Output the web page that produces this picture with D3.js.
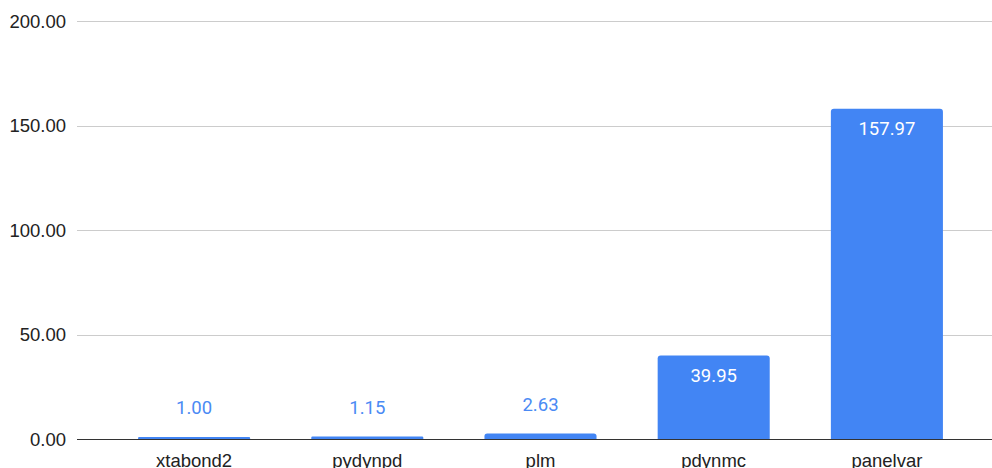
<!DOCTYPE html>
<html>
<head>
<meta charset="utf-8">
<script src="https://cdn.jsdelivr.net/npm/d3@7"></script>
<style>
  body { margin: 0; background: #fff; }
  svg { display: block; }
</style>
</head>
<body>
<script>
var width = 992;
var height = 468;

var categories = ["xtabond2", "pydynpd", "plm", "pdynmc", "panelvar"];
var values = [1.00, 1.15, 2.63, 39.95, 157.97];
var yTicks = [0, 50, 100, 150, 200];

var svg = d3.select("body").append("svg")
  .attr("width", width)
  .attr("height", height);

var x = d3.scaleBand()
  .domain(categories)
  .range([107.5, 973.5])
  .paddingInner(0.353)
  .paddingOuter(0.1765);

var y = d3.scaleLinear()
  .domain([0, 200])
  .range([439, 21]);

// gridlines
svg.append("g")
  .selectAll("line")
  .data(yTicks.filter(function(d) { return d > 0; }))
  .enter().append("line")
    .attr("x1", 77)
    .attr("x2", width)
    .attr("y1", function(d) { return Math.round(y(d)) + 0.5; })
    .attr("y2", function(d) { return Math.round(y(d)) + 0.5; })
    .attr("stroke", "#cccccc")
    .attr("stroke-width", 1);

// y labels
svg.append("g")
  .selectAll("text")
  .data(yTicks)
  .enter().append("text")
    .attr("x", 66)
    .attr("y", function(d) { return y(d) + 6.5; })
    .attr("text-anchor", "end")
    .attr("font-family", "Liberation Sans, Arial, sans-serif")
    .attr("font-size", 18.5)
    .attr("fill", "#222")
    .text(function(d) { return d3.format(".2f")(d); });

// bars
function barPath(d, i) {
  var x0 = x(categories[i]), w = x.bandwidth();
  var top = y(d), bot = y(0);
  var r = Math.min(3, (bot - top) / 2);
  return "M" + x0 + "," + bot +
    "V" + (top + r) +
    "Q" + x0 + "," + top + " " + (x0 + r) + "," + top +
    "H" + (x0 + w - r) +
    "Q" + (x0 + w) + "," + top + " " + (x0 + w) + "," + (top + r) +
    "V" + bot + "Z";
}

svg.append("g")
  .selectAll("path")
  .data(values)
  .enter().append("path")
    .attr("d", barPath)
    .attr("fill", "#4285f4");

// baseline
svg.append("line")
  .attr("x1", 77)
  .attr("x2", width)
  .attr("y1", 439.5)
  .attr("y2", 439.5)
  .attr("stroke", "#333")
  .attr("stroke-width", 1);

// value labels
svg.append("g")
  .selectAll("text")
  .data(values)
  .enter().append("text")
    .attr("x", function(d, i) { return x(categories[i]) + x.bandwidth() / 2; })
    .attr("y", function(d) { return d > 20 ? y(d) + 26 : y(d) - 23; })
    .attr("text-anchor", "middle")
    .attr("font-family", "Roboto, sans-serif")
    .attr("font-size", 18.5)
    .attr("fill", function(d) { return d > 20 ? "#ffffff" : "#4a8af4"; })
    .text(function(d) { return d3.format(".2f")(d); });

// category labels (cut off at the bottom edge, as in the original)
svg.append("g")
  .selectAll("text")
  .data(categories)
  .enter().append("text")
    .attr("x", function(d) { return x(d) + x.bandwidth() / 2; })
    .attr("y", 467)
    .attr("text-anchor", "middle")
    .attr("font-family", "Liberation Sans, Arial, sans-serif")
    .attr("font-size", 18.5)
    .attr("fill", "#222")
    .text(function(d) { return d; });
</script>
</body>
</html>
